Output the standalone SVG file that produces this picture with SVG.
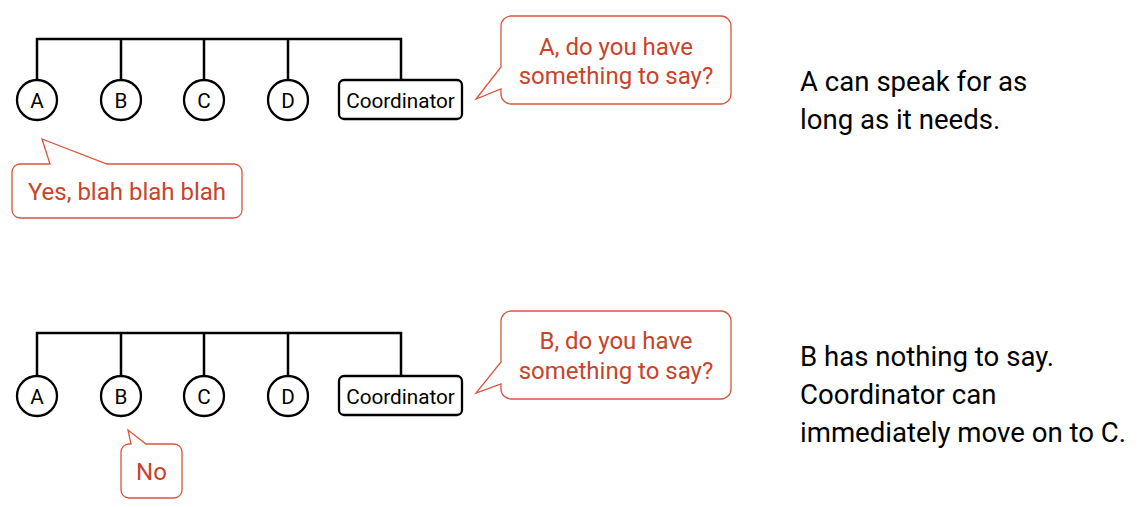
<svg xmlns="http://www.w3.org/2000/svg" width="1143" height="507" viewBox="0 0 1143 507">
<style>
.bus{fill:none;stroke:#000;stroke-width:2.5;stroke-linecap:square}
.node circle,.node rect{fill:#fff;stroke:#000;stroke-width:2.3}
.lbl{font-family:Roboto,"Liberation Sans",sans-serif;font-size:20.7px;fill:#000;text-anchor:middle}
.bub{fill:#fff;stroke:#d9553d;stroke-width:1.3}
.bt{font-family:Roboto,"Liberation Sans",sans-serif;font-size:24px;fill:#c9432b;text-anchor:middle}
.note{font-family:Roboto,"Liberation Sans",sans-serif;font-size:27.6px;fill:#000}
</style>
<rect width="1143" height="507" fill="#fff"/>
<g id="connectors">
<path class="bus" d="M37,80 V39 H401 V80 M121,39 V80 M204,39 V80 M288,39 V80"/>
<path class="bus" d="M37,376 V333 H401 V376 M121,333 V376 M204,333 V376 M288,333 V376"/>
</g>
<g id="top-A" class="node"><circle cx="37" cy="100" r="20"/><text class="lbl" x="37" y="108">A</text></g>
<g id="top-B" class="node"><circle cx="121" cy="100" r="20"/><text class="lbl" x="121" y="108">B</text></g>
<g id="top-C" class="node"><circle cx="204" cy="100" r="20"/><text class="lbl" x="204" y="108">C</text></g>
<g id="top-D" class="node"><circle cx="288" cy="100" r="20"/><text class="lbl" x="288" y="108">D</text></g>
<g id="top-Coordinator" class="node"><rect x="339" y="80" width="123" height="39" rx="5"/><text class="lbl" x="400.5" y="108">Coordinator</text></g>
<g id="bot-A" class="node"><circle cx="37" cy="396" r="20"/><text class="lbl" x="37" y="404">A</text></g>
<g id="bot-B" class="node"><circle cx="121" cy="396" r="20"/><text class="lbl" x="121" y="404">B</text></g>
<g id="bot-C" class="node"><circle cx="204" cy="396" r="20"/><text class="lbl" x="204" y="404">C</text></g>
<g id="bot-D" class="node"><circle cx="288" cy="396" r="20"/><text class="lbl" x="288" y="404">D</text></g>
<g id="bot-Coordinator" class="node"><rect x="339" y="376" width="123" height="39" rx="5"/><text class="lbl" x="400.5" y="404">Coordinator</text></g>
<g id="bubble-coord-A">
<path class="bub" d="M511,16 H721 A10,10 0 0 1 731,26 V94 A10,10 0 0 1 721,104 H511 A10,10 0 0 1 501,94 V89 L476,99 L501,67 V26 A10,10 0 0 1 511,16 Z"/>
<text class="bt" x="616" y="55">A, do you have</text>
<text class="bt" x="616" y="84">something to say?</text>
</g>
<g id="bubble-A-yes">
<path class="bub" d="M20,164 H50 L42,139 L107,164 H234 A8,8 0 0 1 242,172 V210 A8,8 0 0 1 234,218 H20 A8,8 0 0 1 12,210 V172 A8,8 0 0 1 20,164 Z"/>
<text class="bt" x="127" y="200">Yes, blah blah blah</text>
</g>
<g id="bubble-coord-B">
<path class="bub" d="M511,311 H721 A10,10 0 0 1 731,321 V389 A10,10 0 0 1 721,399 H511 A10,10 0 0 1 501,389 V384 L476,393 L501,362 V321 A10,10 0 0 1 511,311 Z"/>
<text class="bt" x="616" y="349">B, do you have</text>
<text class="bt" x="616" y="379">something to say?</text>
</g>
<g id="bubble-B-no">
<path class="bub" d="M129,444 H131 L128,430 L146,444 H174 A8,8 0 0 1 182,452 V490 A8,8 0 0 1 174,498 H129 A8,8 0 0 1 121,490 V452 A8,8 0 0 1 129,444 Z"/>
<text class="bt" x="151.5" y="480">No</text>
</g>
<g id="note-top">
<text class="note" x="800" y="91">A can speak for as</text>
<text class="note" x="800" y="129">long as it needs.</text>
</g>
<g id="note-bottom">
<text class="note" x="800" y="366">B has nothing to say.</text>
<text class="note" x="800" y="404">Coordinator can</text>
<text class="note" x="800" y="442">immediately move on to C.</text>
</g>
</svg>
